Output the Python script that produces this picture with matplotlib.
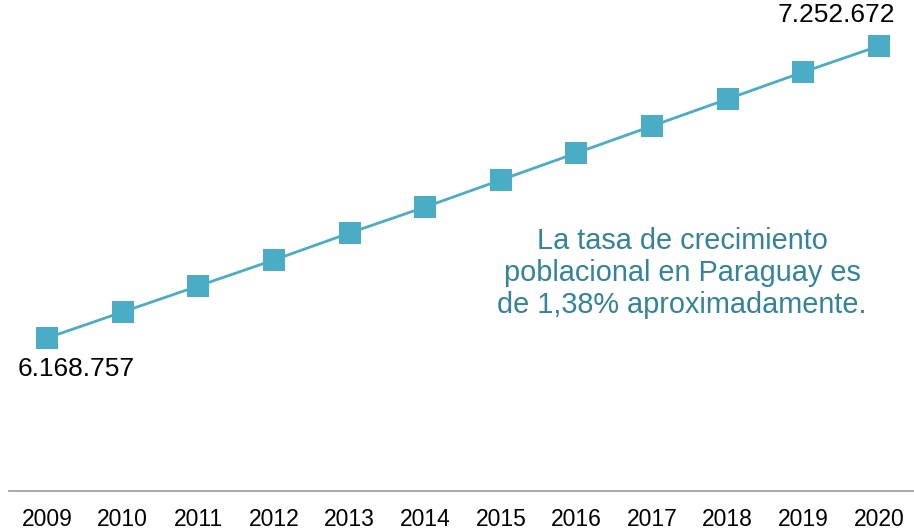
import matplotlib.pyplot as plt

years = ["2009", "2010", "2011", "2012", "2013", "2014", "2015", "2016", "2017", "2018", "2019", "2020"]
population = [6168757, 6265300, 6361800, 6458300, 6558500, 6655000, 6755300, 6855500, 6955700, 7055900, 7156100, 7252672]
first_label = "6.168.757"
last_label = "7.252.672"
note = "La tasa de crecimiento\npoblacional en Paraguay es\nde 1,38% aproximadamente."

plt.rcParams['font.family'] = ['Liberation Sans', 'DejaVu Sans']

fig = plt.figure(figsize=(9.14, 5.31), dpi=100)
ax = fig.add_axes([9.2 / 914, 40 / 531, 907.6 / 914, 491 / 531])

x = list(range(len(years)))
ax.plot(x, population, color='#4BACC6', linewidth=2, marker='s', markersize=16.5,
        markeredgewidth=0, clip_on=False, zorder=3)

ax.set_xlim(-0.5, len(years) - 0.5)
ax.set_ylim(5.6008e6, 7.4234e6)

for side in ['left', 'right', 'top']:
    ax.spines[side].set_visible(False)
ax.spines['bottom'].set_color('#A0A0A0')
ax.spines['bottom'].set_linewidth(1.3)
ax.set_yticks([])
ax.set_xticks(x)
ax.set_xticklabels(years, fontsize=16.5)
ax.tick_params(axis='x', length=0, pad=12)

# value labels at both ends
ax.annotate(first_label, (x[0], population[0]), xytext=(21, -22), textcoords='offset points',
            ha='center', va='center', fontsize=19, color='black')
ax.annotate(last_label, (x[-1], population[-1]), xytext=(-31, 22), textcoords='offset points',
            ha='center', va='center', fontsize=19, color='black')

fig.text(682 / 914, 1 - 273 / 531, note, ha='center', va='center', fontsize=20.8,
         color='#31849B', linespacing=1.17)

fig.savefig('out.png', dpi=100)
